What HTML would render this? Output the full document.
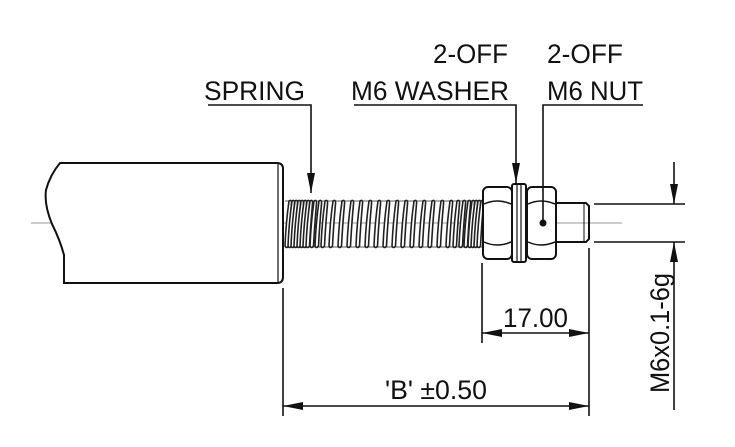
<!DOCTYPE html>
<html><head><meta charset="utf-8"><style>
html,body{margin:0;padding:0;background:#fff;}
svg{display:block;}
text{font-family:"Liberation Sans",sans-serif;fill:#111;}
</style></head><body>
<svg width="735" height="447" viewBox="0 0 735 447" xmlns="http://www.w3.org/2000/svg">
<defs>
<marker id="a" viewBox="0 0 20 8" refX="20" refY="4" markerWidth="20" markerHeight="8" markerUnits="userSpaceOnUse" orient="auto"><path d="M0,0 L20,4 L0,8 Z" fill="#111"/></marker>
<path id="c" d="M0,246 Q1,222 4,201 Q7,199 6.5,204 Q4.5,226 3.5,246 Q1.5,249 0,246 Z" fill="#fff" stroke="#222" stroke-width="1.6"/>
</defs>
<g stroke="#bbb" stroke-width="1.5">
<line x1="31" y1="223" x2="130" y2="223"/>
<line x1="141" y1="223" x2="155" y2="223"/>
<line x1="165" y1="223" x2="480" y2="223"/>
<line x1="498" y1="223" x2="622" y2="223"/>
</g>
<g fill="none" stroke="#111" stroke-width="2">
<path d="M60,163 L277,163 Q283,163 283,169 L283,277 Q283,283 277,283 L64,283 L64,255 Q60,240 52,224 Q44,205 46,190 Q50,175 60,163 Z" fill="#fff"/>
<line x1="278" y1="164" x2="278" y2="282" stroke-width="1.2"/>
<path d="M556,203 L586,203 L589,206 L589,239 L586,242 L556,242"/>
<line x1="584" y1="203" x2="584" y2="242" stroke-width="1"/>
</g>
<g>
<line x1="285" y1="201" x2="482" y2="201" stroke="#222" stroke-width="0.8"/>
<line x1="285" y1="247" x2="482" y2="247" stroke="#222" stroke-width="0.8"/>
<use href="#c" x="285"/><use href="#c" x="288"/><use href="#c" x="291"/><use href="#c" x="294"/>
<use href="#c" x="297"/><use href="#c" x="300"/><use href="#c" x="303"/><use href="#c" x="306"/>
<use href="#c" x="310"/><use href="#c" x="315"/><use href="#c" x="321"/>
<use href="#c" x="329"/><use href="#c" x="338"/><use href="#c" x="347"/><use href="#c" x="356"/>
<use href="#c" x="365"/><use href="#c" x="374"/><use href="#c" x="383"/><use href="#c" x="392"/>
<use href="#c" x="401"/><use href="#c" x="410"/><use href="#c" x="419"/><use href="#c" x="428"/>
<use href="#c" x="437"/><use href="#c" x="446"/>
<use href="#c" x="453"/><use href="#c" x="459"/><use href="#c" x="464"/>
<use href="#c" x="468"/><use href="#c" x="471"/><use href="#c" x="474"/><use href="#c" x="477"/>
</g>
<g fill="none" stroke="#111" stroke-width="2">
<rect x="483" y="187" width="29" height="72" rx="5" fill="#fff"/>
<path d="M484,204 Q497,198 511,204 M484,242 Q497,248 511,242" stroke-width="1.5"/>
<rect x="512" y="184" width="14" height="78" rx="2" fill="#fff"/>
<line x1="517" y1="185" x2="517" y2="261" stroke-width="1.2"/>
<line x1="521" y1="185" x2="521" y2="261" stroke-width="1.2"/>
<rect x="527" y="187" width="29" height="72" rx="5" fill="#fff"/>
<path d="M528,204 Q541,198 555,204 M528,242 Q541,248 555,242" stroke-width="1.5"/>
</g>
<circle cx="543" cy="223" r="3.5" fill="#111"/>
<g fill="none" stroke="#111" stroke-width="1.6">
<polyline points="208,105 311,105 311,193" marker-end="url(#a)"/>
<polyline points="354,105 516,105 516,183" marker-end="url(#a)"/>
<polyline points="643,105 543,105 543,223"/>
<line x1="594" y1="204" x2="685" y2="204"/>
<line x1="594" y1="242" x2="685" y2="242"/>
<line x1="674" y1="162" x2="674" y2="204" marker-end="url(#a)"/>
<line x1="674" y1="410" x2="674" y2="242" marker-end="url(#a)"/>
<line x1="482" y1="263" x2="482" y2="343"/>
<line x1="589" y1="248" x2="589" y2="416"/>
<line x1="535" y1="333" x2="482" y2="333" marker-end="url(#a)"/>
<line x1="535" y1="333" x2="589" y2="333" marker-end="url(#a)"/>
<line x1="283" y1="288" x2="283" y2="416"/>
<line x1="436" y1="406" x2="283" y2="406" marker-end="url(#a)"/>
<line x1="436" y1="406" x2="589" y2="406" marker-end="url(#a)"/>
</g>
<g font-size="27">
<text x="433" y="63" textLength="75" lengthAdjust="spacingAndGlyphs">2-OFF</text>
<text x="547" y="63" textLength="76" lengthAdjust="spacingAndGlyphs">2-OFF</text>
<text x="204" y="100" textLength="101" lengthAdjust="spacingAndGlyphs">SPRING</text>
<text x="351" y="100" textLength="158" lengthAdjust="spacingAndGlyphs">M6 WASHER</text>
<text x="547" y="100" textLength="96" lengthAdjust="spacingAndGlyphs">M6 NUT</text>
<text x="503" y="327" textLength="65" lengthAdjust="spacingAndGlyphs">17.00</text>
<text x="385" y="399" textLength="102" lengthAdjust="spacingAndGlyphs">'B' ±0.50</text>
<text transform="translate(669,333) rotate(-90)" text-anchor="middle" textLength="120" lengthAdjust="spacingAndGlyphs">M6x0.1-6g</text>
</g>
</svg>
</body></html>
